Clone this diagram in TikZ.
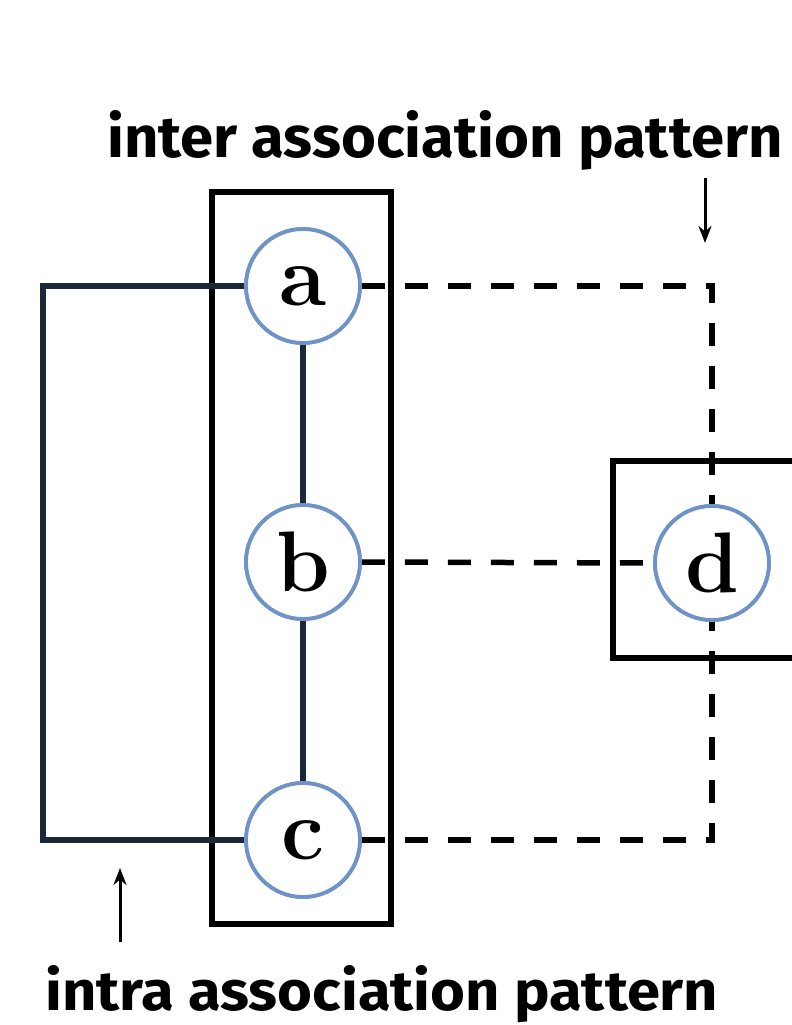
\documentclass[tikz,border=0pt]{standalone}
\usepackage{fontspec}
\setsansfont{Fira Sans}
\usepackage{graphicx}
\usetikzlibrary{arrows.meta}
\definecolor{circblue}{HTML}{6F93C6}
\definecolor{navy}{HTML}{1B2838}
\tikzset{
  vert/.style={circle, draw=circblue, line width=3.8pt, fill=white, minimum size=114pt, inner sep=0pt,
    font=\fontsize{86}{86}\selectfont\bfseries},
  groupbox/.style={draw=black, line width=5.5pt, inner sep=0pt},
  intra/.style={draw=navy, line width=5.5pt},
  inter/.style={draw=black, line width=5.5pt, dash pattern=on 23pt off 20pt},
  pointer/.style={draw=black, line width=3pt, -{Stealth[length=17pt,width=13pt]}},
  caption/.style={anchor=base west, inner sep=0pt}
}
\begin{document}
\begin{tikzpicture}[x=1pt,y=-1pt]
\useasboundingbox (0,0) rectangle (792,1025);
% left group box
\node[groupbox, minimum width=179pt, minimum height=732pt] (G) at (301.5,558) {};
% right group box (clipped at page edge)
\coordinate (R1) at (792,461);
\coordinate (R2) at (613,461);
\coordinate (R3) at (613,658);
\coordinate (R4) at (792,658);
\draw[line width=5.5pt, line join=miter] (R1) -- (R2) -- (R3) -- (R4);
% vertices
\node[vert] (a) at (303,286) {a};
\node[vert] (b) at (303,562) {b};
\node[vert] (c) at (303,840) {c};
\node[vert] (d) at (712,563) {d};
% intra connections
\coordinate (L) at (43,562);
\draw[intra, line join=miter] (a.west) -| (L) |- (c.west);
\draw[intra] (a.south) -- (b.north);
\draw[intra] (b.south) -- (c.north);
% inter connections
\draw[inter] (a.east) -| (d.north);
\draw[inter] (b.east) -- (d.west);
\draw[inter] (c.east) -| (d.south);
% redraw vertices on top
\node[vert] at (a) {a};
\node[vert] at (b) {b};
\node[vert] at (c) {c};
\node[vert] at (d) {d};
% captions
\node[caption] (top) at (107,157) {\resizebox{675pt}{47pt}{\sffamily\bfseries inter association pattern}};
\node[caption] (bot) at (45,1010) {\resizebox{673pt}{45pt}{\sffamily\bfseries intra association pattern}};
% pointers
\coordinate (p1) at (705,178);
\coordinate (p2) at (705,243);
\draw[pointer] (p1) -- (p2);
\coordinate (q1) at (120,942);
\coordinate (q2) at (120,868);
\draw[pointer] (q1) -- (q2);
\end{tikzpicture}
\end{document}
